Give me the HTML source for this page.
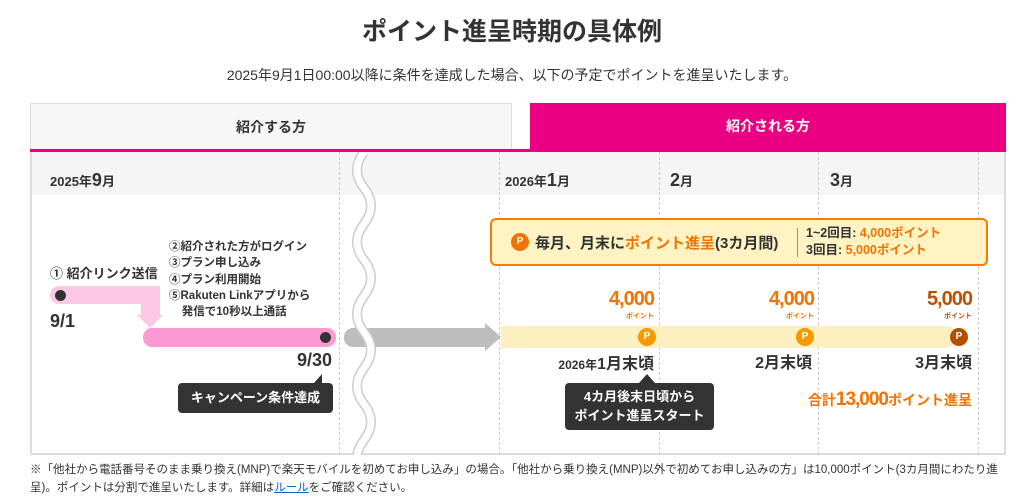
<!DOCTYPE html>
<html><head><meta charset="utf-8"><style>
*{margin:0;padding:0;box-sizing:border-box}
body{width:1024px;height:504px;background:#fff;font-family:"Liberation Sans","Noto Sans CJK JP",sans-serif;color:#333;position:relative;overflow:hidden}
.a{position:absolute;white-space:nowrap}
.b{font-weight:bold}
.o{color:#f27300}
.dash{position:absolute;top:152px;height:303px;border-left:1px dashed #ccc}
.dot{position:absolute;width:11px;height:11px;border-radius:50%;background:#333}
.pc{position:absolute;width:18px;height:18px;border-radius:50%;color:#fff;font-size:10px;font-weight:bold;text-align:center;line-height:18px}
.tip{position:absolute;background:#333;color:#fff;font-weight:bold;font-size:13px;border-radius:4px;text-align:center}
</style></head><body>
<div class="a b" style="left:0;width:1024px;text-align:center;top:12px;font-size:25px;color:#333">ポイント進呈時期の具体例</div>
<div class="a" style="left:0;width:1024px;text-align:center;top:65px;font-size:14px">2025年9月1日00:00以降に条件を達成した場合、以下の予定でポイントを進呈いたします。</div>
<div class="a b" style="left:30px;top:103px;width:482px;height:47px;background:#f7f7f7;border:1px solid #ddd;border-bottom:none;text-align:center;line-height:46px;font-size:14px">紹介する方</div>
<div class="a b" style="left:530px;top:103px;width:476px;height:47px;background:#eb0083;color:#fff;text-align:center;line-height:46px;font-size:14px">紹介される方</div>
<div class="a" style="left:30px;top:149px;width:976px;height:3px;background:#eb0083"></div>
<div class="a" style="left:30px;top:152px;width:976px;height:303px;border:2px solid #ddd;border-top:none"></div>
<div class="a" style="left:32px;top:152px;width:972px;height:43px;background:#f5f5f5"></div>
<div class="dash" style="left:339px"></div><div class="dash" style="left:499px"></div><div class="dash" style="left:659px"></div><div class="dash" style="left:818px"></div><div class="dash" style="left:978px"></div>
<div class="a b" style="left:50px;top:170px;font-size:13px">2025年<span style="font-size:18px">9</span>月</div>
<div class="a b" style="left:505px;top:170px;font-size:13px">2026年<span style="font-size:18px">1</span>月</div>
<div class="a b" style="left:670px;top:170px;font-size:13px"><span style="font-size:18px">2</span>月</div>
<div class="a b" style="left:830px;top:170px;font-size:13px"><span style="font-size:18px">3</span>月</div>
<!-- left part -->
<div class="a b" style="left:50px;top:263px;font-size:13px">① 紹介リンク送信</div>
<div class="a b" style="left:169px;top:239px;font-size:11.5px;line-height:16.3px">②紹介された方がログイン<br>③プラン申し込み<br>④プラン利用開始<br>⑤Rakuten Linkアプリから<br>&nbsp;&nbsp;&nbsp;&nbsp;発信で10秒以上通話</div>
<div class="a" style="left:50px;top:286px;width:110px;height:18px;background:#fdc8e3;border-radius:9px 0 0 9px"></div>
<div class="a" style="left:141px;top:286px;width:19px;height:30px;background:#fdc8e3"></div>
<div class="a" style="left:137px;top:315px;width:0;height:0;border-left:13px solid transparent;border-right:13px solid transparent;border-top:13px solid #fdc8e3"></div>
<div class="dot" style="left:55px;top:290px"></div>
<div class="a b" style="left:50px;top:311px;font-size:18px">9/1</div>
<div class="a" style="left:143px;top:328px;width:193px;height:19px;background:#fd9ad3;border-radius:9px"></div>
<div class="dot" style="left:320px;top:332px"></div>
<div class="a b" style="left:272px;width:60px;text-align:right;top:350px;font-size:18px">9/30</div>
<div class="tip" style="left:178px;top:383px;width:155px;height:30px;line-height:30px">キャンペーン条件達成</div>
<div class="a" style="left:313px;top:374px;border-left:9px solid transparent;border-bottom:10px solid #333"></div>
<!-- gray arrow + wave -->
<div class="a" style="left:344px;top:328px;width:142px;height:19px;background:#bdbdbd;border-radius:9px 0 0 9px"></div>
<div class="a" style="left:485px;top:323px;border-top:14px solid transparent;border-bottom:14px solid transparent;border-left:16px solid #bdbdbd"></div>
<svg class="a" style="left:348px;top:152px" width="32" height="303"><path d="M16 0 q-14 18 0 36 q14 18 0 36 q-14 18 0 36 q14 18 0 36 q-14 18 0 36 q14 18 0 36 q-14 18 0 36 q14 18 0 36 q-14 18 0 36" fill="none" stroke="#ccc" stroke-width="10"/><path d="M16 0 q-14 18 0 36 q14 18 0 36 q-14 18 0 36 q14 18 0 36 q-14 18 0 36 q14 18 0 36 q-14 18 0 36 q14 18 0 36 q-14 18 0 36" fill="none" stroke="#fff" stroke-width="7"/></svg>
<!-- right part -->
<div class="a" style="left:501px;top:326px;width:456px;height:22px;background:#fdf0c0;border-radius:0 11px 11px 0"></div>
<div class="a" style="left:490px;top:218px;width:498px;height:48px;border:2px solid #f57c00;background:#fff3c4;border-radius:6px"></div>
<div class="pc" style="left:511px;top:233px;background:#f27300">P</div>
<div class="a b" style="left:535px;top:232px;font-size:15px">毎月、月末に<span class="o">ポイント進呈</span>(3カ月間)</div>
<div class="a" style="left:797px;top:228px;width:1px;height:29px;background:#f57c00"></div>
<div class="a b" style="left:806px;top:225px;font-size:12.5px;line-height:17px">1~2回目: <span class="o">4,000ポイント</span><br>3回目: <span class="o">5,000ポイント</span></div>
<div class="a b o" style="left:574px;width:80px;text-align:right;top:288px;font-size:20px;letter-spacing:-1px">4,000</div>
<div class="a b o" style="left:734px;width:80px;text-align:right;top:288px;font-size:20px;letter-spacing:-1px">4,000</div>
<div class="a b" style="left:892px;width:80px;text-align:right;top:288px;font-size:20px;letter-spacing:-1px;color:#b85200">5,000</div>
<div class="a b o" style="left:594px;width:60px;text-align:right;top:311px;font-size:7px">ポイント</div>
<div class="a b o" style="left:754px;width:60px;text-align:right;top:311px;font-size:7px">ポイント</div>
<div class="a b" style="left:912px;width:60px;text-align:right;top:311px;font-size:7px;color:#b85200">ポイント</div>
<div class="pc" style="left:638px;top:328px;background:#f59a00">P</div>
<div class="pc" style="left:796px;top:328px;background:#f59a00">P</div>
<div class="pc" style="left:950px;top:328px;background:#b35000">P</div>
<div class="a b" style="left:520px;width:134px;text-align:right;top:350px;font-size:12px">2026年<span style="font-size:16px">1月末頃</span></div>
<div class="a b" style="left:712px;width:100px;text-align:right;top:349px;font-size:16px">2月末頃</div>
<div class="a b" style="left:872px;width:100px;text-align:right;top:349px;font-size:16px">3月末頃</div>
<div class="tip" style="left:565px;top:383px;width:149px;height:47px;line-height:19px;padding-top:4px">4カ月後末日頃から<br>ポイント進呈スタート</div>
<div class="a" style="left:639px;top:374px;border-left:8px solid transparent;border-right:8px solid transparent;border-bottom:9px solid #333"></div>
<div class="a b o" style="left:772px;width:200px;text-align:right;top:389px;font-size:14px">合計<span style="font-size:19px;letter-spacing:-1px">13,000</span>ポイント進呈</div>
<div class="a" style="left:30px;top:461px;font-size:11.5px;line-height:18px;white-space:normal;width:990px">※「他社から電話番号そのまま乗り換え(MNP)で楽天モバイルを初めてお申し込み」の場合。「他社から乗り換え(MNP)以外で初めてお申し込みの方」は10,000ポイント(3カ月間にわたり進呈)。ポイントは分割で進呈いたします。詳細は<span style="color:#0066cc;text-decoration:underline">ルール</span>をご確認ください。</div>
</body></html>
